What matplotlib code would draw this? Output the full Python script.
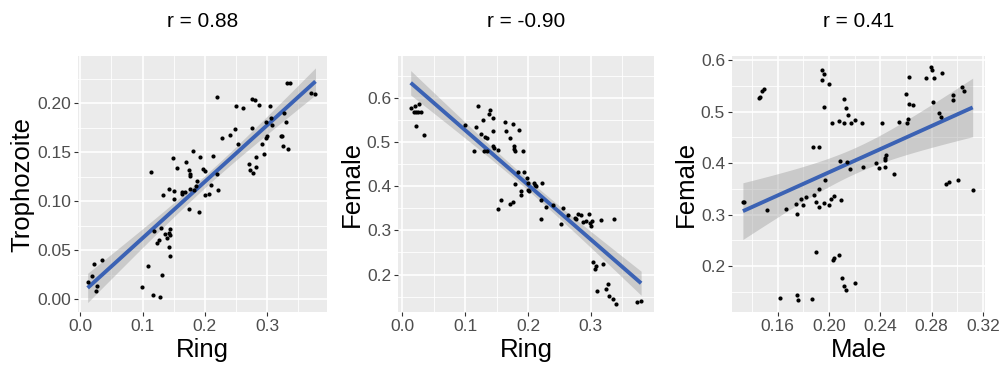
import numpy as np
import matplotlib.pyplot as plt
from matplotlib.ticker import FixedLocator

plt.rcParams['font.family'] = ['Liberation Sans', 'DejaVu Sans']

# panel 1: Ring vs Trophozoite
ring1 = [0.0118, 0.0193, 0.0219, 0.0342, 0.0273, 0.0246, 0.0995, 0.108, 0.1128, 0.1166,
         0.1273, 0.131, 0.1187, 0.123, 0.1267, 0.130, 0.132, 0.1364, 0.139, 0.1422,
         0.144, 0.144, 0.143, 0.144, 0.142, 0.1487, 0.1497, 0.1497, 0.1556, 0.163,
         0.1636, 0.169, 0.1743, 0.1765, 0.1765, 0.175, 0.1754, 0.1674, 0.1813, 0.1824,
         0.186, 0.1877, 0.1898, 0.1925, 0.1963, 0.1995, 0.1995, 0.207, 0.210, 0.2123,
         0.2187, 0.2203, 0.220, 0.2267, 0.240, 0.2476, 0.2503, 0.253, 0.2615, 0.270,
         0.2722, 0.2749, 0.276, 0.2775, 0.2807, 0.2813, 0.2813, 0.2866, 0.2914, 0.2952,
         0.2973, 0.2979, 0.300, 0.3043, 0.306, 0.307, 0.3219, 0.3241, 0.3294, 0.3246,
         0.3267, 0.3337, 0.332, 0.336, 0.371, 0.3775]
troph1 = [0.0177, 0.0239, 0.0354, 0.0402, 0.0136, 0.0085, 0.0126, 0.0334, 0.130, 0.0037,
          0.0024, 0.025, 0.0695, 0.0569, 0.0603, 0.0726, 0.106, 0.0664, 0.062, 0.1124,
          0.0715, 0.065, 0.0535, 0.0443, 0.067, 0.1438, 0.1107, 0.1026, 0.1336, 0.1097,
          0.1073, 0.140, 0.1319, 0.1278, 0.1257, 0.0917, 0.1128, 0.109, 0.1516, 0.1114,
          0.1155, 0.1206, 0.0893, 0.1455, 0.1332, 0.131, 0.1063, 0.1073, 0.1162, 0.1465,
          0.2068, 0.1114, 0.128, 0.1642, 0.1676, 0.1738, 0.1969, 0.1588, 0.1956, 0.138,
          0.1319, 0.2044, 0.1751, 0.1285, 0.2034, 0.1455, 0.1346, 0.198, 0.1588, 0.1479,
          0.1813, 0.1649, 0.1666, 0.1969, 0.185, 0.1775, 0.167, 0.1666, 0.1806, 0.1567,
          0.1905, 0.153, 0.2211, 0.2211, 0.2109, 0.2095]

# panel 2: Ring vs Female
ring2 = [0.0133, 0.0197, 0.018, 0.0218, 0.0255, 0.0293, 0.026, 0.0223, 0.0346, 0.100,
         0.1138, 0.118, 0.1207, 0.1245, 0.1282, 0.130, 0.134, 0.132, 0.135, 0.1378,
         0.140, 0.1436, 0.145, 0.144, 0.146, 0.1516, 0.1516, 0.157, 0.1638, 0.165,
         0.1707, 0.1707, 0.176, 0.1766, 0.178, 0.178, 0.179, 0.179, 0.1835, 0.186,
         0.189, 0.189, 0.1926, 0.194, 0.198, 0.1995, 0.2005, 0.2016, 0.209, 0.211,
         0.212, 0.2207, 0.2218, 0.2207, 0.228, 0.2404, 0.252, 0.2553, 0.263, 0.274,
         0.276, 0.280, 0.284, 0.288, 0.292, 0.297, 0.299, 0.300, 0.3016, 0.316,
         0.3367, 0.303, 0.306, 0.308, 0.310, 0.319, 0.324, 0.3266, 0.329, 0.3356,
         0.340, 0.374, 0.380]
female2 = [0.5765, 0.581, 0.567, 0.567, 0.567, 0.568, 0.587, 0.536, 0.515, 0.539,
           0.479, 0.533, 0.582, 0.518, 0.549, 0.480, 0.480, 0.511, 0.508, 0.564,
           0.573, 0.526, 0.555, 0.490, 0.487, 0.483, 0.348, 0.369, 0.545, 0.526,
           0.509, 0.360, 0.364, 0.541, 0.490, 0.484, 0.480, 0.404, 0.433, 0.527,
           0.390, 0.379, 0.479, 0.433, 0.418, 0.407, 0.392, 0.389, 0.407, 0.403,
           0.400, 0.369, 0.408, 0.326, 0.354, 0.358, 0.314, 0.350, 0.335, 0.329,
           0.326, 0.338, 0.335, 0.319, 0.321, 0.336, 0.317, 0.311, 0.322, 0.324,
           0.326, 0.229, 0.213, 0.219, 0.162, 0.223, 0.168, 0.179, 0.152, 0.145,
           0.134, 0.137, 0.140]

# panel 3: Male vs Female
male3 = [0.133, 0.134, 0.1452, 0.1465, 0.1478, 0.1491, 0.1517, 0.162, 0.1667, 0.1745,
         0.175, 0.175, 0.1763, 0.178, 0.180, 0.182, 0.1867, 0.1875, 0.188, 0.190,
         0.190, 0.192, 0.1924, 0.1924, 0.1945, 0.196, 0.1947, 0.196, 0.1966, 0.196,
         0.1997, 0.200, 0.2015, 0.204, 0.2025, 0.203, 0.204, 0.2077, 0.2075, 0.2085,
         0.2093, 0.210, 0.2119, 0.212, 0.2134, 0.2119, 0.2134, 0.214, 0.2152, 0.217,
         0.2165, 0.220, 0.2207, 0.226, 0.2267, 0.2368, 0.2394, 0.2414, 0.2435, 0.2438,
         0.2445, 0.244, 0.2508, 0.2544, 0.2598, 0.261, 0.262, 0.2627, 0.2627, 0.2658,
         0.2754, 0.2793, 0.2806, 0.2808, 0.2821, 0.2858, 0.2873, 0.2884, 0.2912, 0.2937,
         0.297, 0.297, 0.3008, 0.3034, 0.3052, 0.312]
female3 = [0.324, 0.325, 0.5256, 0.5288, 0.5405, 0.5431, 0.310, 0.138, 0.312, 0.320,
           0.301, 0.144, 0.134, 0.330, 0.318, 0.335, 0.137, 0.432, 0.338, 0.324,
           0.228, 0.314, 0.432, 0.350, 0.581, 0.573, 0.561, 0.509, 0.368, 0.323,
           0.553, 0.318, 0.330, 0.336, 0.478, 0.212, 0.217, 0.221, 0.481, 0.405,
           0.329, 0.178, 0.525, 0.478, 0.506, 0.162, 0.153, 0.403, 0.493, 0.477,
           0.388, 0.483, 0.168, 0.478, 0.393, 0.401, 0.391, 0.477, 0.392, 0.406,
           0.416, 0.410, 0.378, 0.480, 0.535, 0.478, 0.485, 0.568, 0.5146, 0.512,
           0.566, 0.586, 0.581, 0.518, 0.566, 0.498, 0.489, 0.575, 0.359, 0.364,
           0.533, 0.522, 0.368, 0.548, 0.539, 0.348]

titles = ["r = 0.88", "r = -0.90", "r = 0.41"]
xlabels = ["Ring", "Ring", "Male"]
ylabels = ["Trophozoite", "Female", "Female"]

BG = "#EBEBEB"
LINE = "#3B62B4"
TXT = "#4D4D4D"


def lm_band(x, y, ax):
    # straight-line fit with a 95% band, like geom_smooth(method="lm")
    x = np.asarray(x)
    y = np.asarray(y)
    n = len(x)
    b, a = np.polyfit(x, y, 1)
    xs = np.linspace(x.min(), x.max(), 80)
    fit = a + b * xs
    resid = y - (a + b * x)
    s = np.sqrt(np.sum(resid ** 2) / (n - 2))
    sxx = np.sum((x - x.mean()) ** 2)
    se = s * np.sqrt(1.0 / n + (xs - x.mean()) ** 2 / sxx)
    t = 1.99
    ax.fill_between(xs, fit - t * se, fit + t * se, color="#999999", alpha=0.4,
                    linewidth=0, zorder=2)
    ax.plot(xs, fit, color=LINE, linewidth=2.8, zorder=4, solid_capstyle='butt')


fig = plt.figure(figsize=(10.04, 3.69), dpi=100)
W, H = 1004.0, 369.0
boxes = [(78, 327), (398, 654), (732, 985)]
top, bottom = 56, 312

data = [(ring1, troph1), (ring2, female2), (male3, female3)]
xlims = [(-0.0037, 0.396), (-0.0069, 0.4005), (0.1245, 0.3216)]
ylims = [(-0.0133, 0.2484), (0.1152, 0.6947), (0.1113, 0.6078)]
xmaj = [[0.0, 0.1, 0.2, 0.3], [0.0, 0.1, 0.2, 0.3], [0.16, 0.20, 0.24, 0.28, 0.32]]
xmin = [[0.05, 0.15, 0.25, 0.35], [0.05, 0.15, 0.25, 0.35], [0.14, 0.18, 0.22, 0.26, 0.30]]
ymaj = [[0.0, 0.05, 0.10, 0.15, 0.20], [0.2, 0.3, 0.4, 0.5, 0.6], [0.2, 0.3, 0.4, 0.5, 0.6]]
ymin = [[0.025, 0.075, 0.125, 0.175, 0.225], [0.15, 0.25, 0.35, 0.45, 0.55, 0.65],
        [0.15, 0.25, 0.35, 0.45, 0.55]]
xfmt = ["%.1f", "%.1f", "%.2f"]
yfmt = ["%.2f", "%.1f", "%.1f"]

for i in range(3):
    l, r = boxes[i]
    ax = fig.add_axes([l / W, (H - bottom) / H, (r - l) / W, (bottom - top) / H])
    ax.set_facecolor(BG)
    for sp in ax.spines.values():
        sp.set_visible(False)
    x, y = data[i]
    lm_band(x, y, ax)
    ax.scatter(x, y, s=9, color="black", zorder=5, linewidths=0)
    ax.set_xlim(*xlims[i])
    ax.set_ylim(*ylims[i])
    ax.xaxis.set_major_locator(FixedLocator(xmaj[i]))
    ax.xaxis.set_minor_locator(FixedLocator(xmin[i]))
    ax.yaxis.set_major_locator(FixedLocator(ymaj[i]))
    ax.yaxis.set_minor_locator(FixedLocator(ymin[i]))
    ax.set_xticklabels([xfmt[i] % v for v in xmaj[i]])
    ax.set_yticklabels([yfmt[i] % v for v in ymaj[i]])
    ax.grid(True, which='major', color='white', linewidth=1.2, zorder=0)
    ax.grid(True, which='minor', color='white', linewidth=0.6, zorder=0)
    ax.set_axisbelow(True)
    ax.tick_params(which='major', length=3, width=0.8, color="#333333",
                   labelsize=12.5, labelcolor=TXT, pad=2)
    ax.tick_params(which='minor', length=0)
    ax.set_xlabel(xlabels[i], fontsize=18.5, labelpad=3)
    ax.set_ylabel(ylabels[i], fontsize=18.5, labelpad=2)
    ax.set_title(titles[i], fontsize=15, pad=21)

fig.savefig("out.png", dpi=100)
